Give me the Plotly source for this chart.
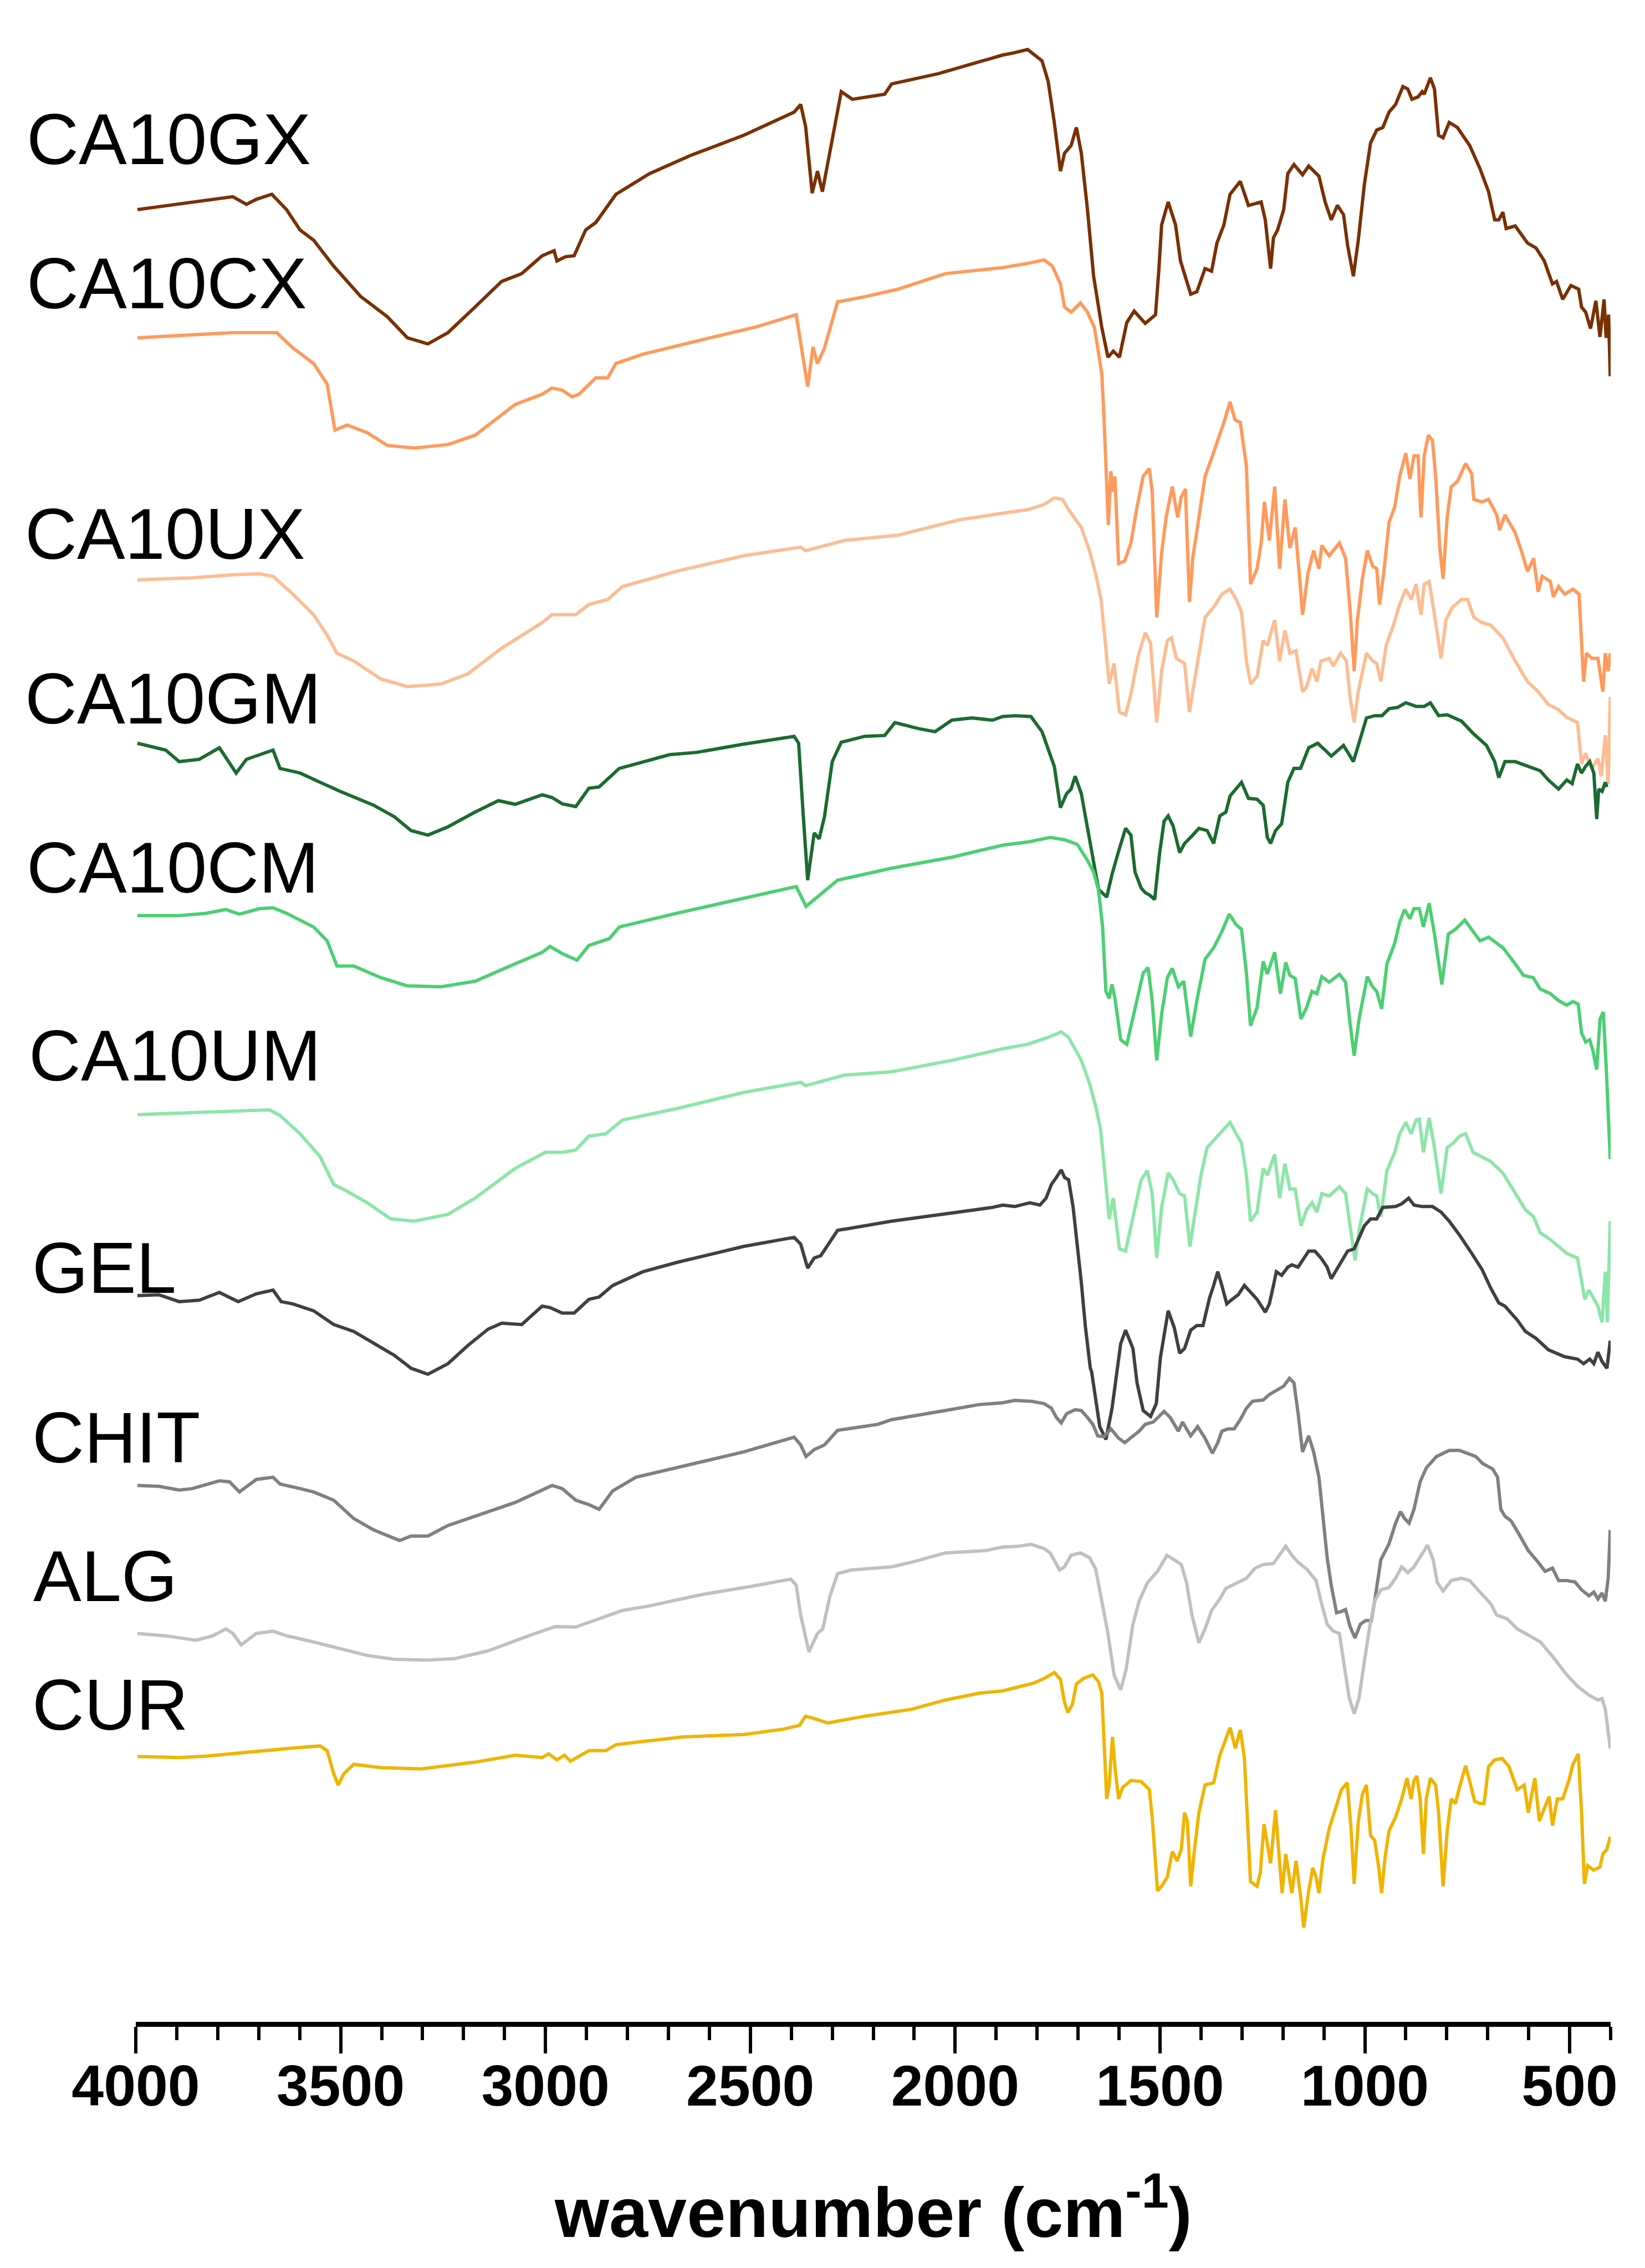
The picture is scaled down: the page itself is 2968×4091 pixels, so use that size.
import plotly.graph_objects as go

# FTIR spectra, stacked (transmittance in arbitrary units, offsets already included)
# each series: list of (wavenumber cm-1, transmittance a.u.)
CA10GX = [(3996, 1258.1), (3862, 1263.4), (3763, 1267.0), (3730, 1261.7), (3706, 1265.2), (3668, 1268.7),
          (3632, 1258.1), (3599, 1244.0), (3566, 1237.0), (3517, 1219.0), (3451, 1198.0), (3386, 1184.0),
          (3337, 1169.4), (3287, 1165.2), (3238, 1173.0), (3172, 1190.7), (3107, 1208.4), (3058, 1213.8),
          (3008, 1226.2), (2979, 1229.7), (2972, 1222.6), (2951, 1225.5), (2930, 1226.2), (2902, 1244.0),
          (2877, 1249.2), (2828, 1268.7), (2746, 1283.0), (2647, 1295.4), (2516, 1309.5), (2393, 1325.5),
          (2377, 1330.8), (2365, 1315.6), (2349, 1269.5), (2336, 1284.7), (2324, 1270.5), (2278, 1339.7),
          (2251, 1334.4), (2172, 1337.9), (2155, 1345.0), (2041, 1352.1), (1975, 1357.4), (1884, 1365.0),
          (1860, 1366.3), (1823, 1368.8), (1788, 1361.0), (1773, 1346.8), (1758, 1318.4), (1743, 1284.7),
          (1733, 1297.1), (1717, 1302.4), (1704, 1314.9), (1692, 1297.1), (1677, 1258.1), (1662, 1212.0),
          (1642, 1176.5), (1627, 1156.0), (1614, 1160.2), (1599, 1156.0), (1581, 1180.0), (1563, 1187.9),
          (1536, 1179.4), (1511, 1185.4), (1503, 1215.5), (1496, 1247.5), (1480, 1263.4), (1462, 1247.5),
          (1450, 1222.6), (1435, 1208.4), (1425, 1199.6), (1410, 1201.3), (1390, 1217.3), (1374, 1215.5),
          (1361, 1235.0), (1344, 1247.5), (1329, 1268.7), (1304, 1277.6), (1284, 1261.0), (1253, 1263.4),
          (1243, 1251.0), (1230, 1217.3), (1223, 1238.6), (1213, 1244.0), (1198, 1258.1), (1188, 1283.0),
          (1173, 1289.3), (1152, 1282.2), (1137, 1288.3), (1112, 1281.2), (1097, 1263.4), (1082, 1251.0),
          (1067, 1261.0), (1052, 1254.6), (1042, 1233.3), (1028, 1212.0), (1016, 1236.8), (1001, 1275.8),
          (986, 1304.2), (971, 1313.1), (956, 1314.9), (941, 1325.5), (925, 1330.8), (907, 1343.2),
          (895, 1341.5), (885, 1334.4), (870, 1336.1), (860, 1339.7), (855, 1337.9), (840, 1349.3),
          (830, 1341.5), (820, 1309.5), (809, 1307.8), (794, 1318.4), (774, 1314.9), (744, 1302.4),
          (719, 1286.5), (698, 1270.5), (683, 1251.0), (673, 1251.0), (663, 1256.3), (655, 1245.0),
          (633, 1246.8), (603, 1235.0), (582, 1231.5), (562, 1222.6), (542, 1206.7), (532, 1208.4),
          (517, 1196.0), (497, 1205.6), (478, 1203.1), (471, 1190.7), (461, 1187.2), (449, 1175.8),
          (436, 1195.0), (426, 1170.1), (416, 1196.0), (411, 1169.4), (405, 1185.4), (401, 1142.8)]

CA10CX = [(3996, 1169.4), (3894, 1171.2), (3829, 1172.3), (3763, 1173.0), (3698, 1173.0), (3656, 1173.0),
          (3616, 1162.3), (3566, 1151.7), (3533, 1137.5), (3514, 1105.6), (3484, 1109.1), (3435, 1103.8),
          (3386, 1095.0), (3320, 1093.2), (3238, 1095.6), (3172, 1102.0), (3074, 1123.3), (3008, 1130.4),
          (2984, 1134.7), (2959, 1133.2), (2935, 1128.6), (2918, 1130.4), (2877, 1141.8), (2848, 1141.8),
          (2828, 1151.7), (2762, 1158.1), (2598, 1169.4), (2483, 1177.2), (2388, 1185.4), (2372, 1158.8),
          (2360, 1135.7), (2347, 1163.0), (2336, 1151.7), (2319, 1162.3), (2287, 1194.3), (2221, 1197.8),
          (2139, 1203.1), (2024, 1213.8), (1884, 1218.0), (1823, 1220.9), (1783, 1223.3), (1763, 1219.1),
          (1743, 1206.7), (1733, 1190.7), (1717, 1187.2), (1694, 1193.5), (1677, 1187.2), (1660, 1176.5),
          (1650, 1158.8), (1642, 1144.6), (1637, 1116.2), (1632, 1080.7), (1626, 1040.0), (1620, 1077.2),
          (1615, 1063.0), (1610, 1073.6), (1601, 1013.3), (1586, 1015.1), (1571, 1027.5), (1556, 1052.4),
          (1541, 1073.6), (1526, 1079.0), (1519, 1063.0), (1508, 976.1), (1496, 1020.4), (1485, 1045.3),
          (1470, 1066.5), (1457, 1045.3), (1448, 1059.5), (1438, 1064.8), (1428, 986.7), (1420, 1016.9),
          (1405, 1045.3), (1390, 1073.6), (1374, 1086.1), (1359, 1098.5), (1344, 1110.9), (1329, 1125.1),
          (1317, 1112.7), (1304, 1110.9), (1289, 1080.7), (1279, 999.1), (1263, 1009.8), (1253, 1027.5),
          (1245, 1055.9), (1233, 1029.3), (1220, 1066.5), (1208, 1009.8), (1195, 1057.7), (1183, 1024.0),
          (1170, 1038.2), (1159, 1002.7), (1152, 977.9), (1139, 1006.2), (1125, 1022.2), (1112, 1009.8),
          (1105, 1025.8), (1087, 1018.7), (1062, 1027.5), (1047, 1016.9), (1036, 981.4), (1026, 938.8),
          (1018, 974.3), (1006, 1002.7), (994, 1022.2), (981, 1011.6), (971, 1009.8), (964, 985.0),
          (954, 1006.2), (941, 1041.7), (927, 1052.4), (915, 1073.6), (900, 1089.6), (890, 1071.9),
          (880, 1087.8), (870, 1087.8), (863, 1045.3), (855, 1087.8), (845, 1102.0), (835, 1098.5),
          (827, 1073.6), (817, 1024.0), (809, 1002.7), (799, 1045.3), (789, 1066.5), (774, 1070.1),
          (754, 1082.5), (739, 1075.4), (734, 1057.7), (714, 1055.9), (698, 1057.7), (678, 1047.0),
          (671, 1036.4), (658, 1047.0), (633, 1034.6), (618, 1022.2), (603, 1008.0), (588, 1016.9),
          (577, 993.8), (567, 1004.5), (547, 1000.9), (540, 990.3), (527, 997.4), (512, 992.1),
          (492, 995.6), (477, 992.1), (466, 931.7), (459, 951.3), (446, 947.7), (431, 947.7),
          (419, 924.7), (413, 951.3), (406, 938.8), (401, 951.3)]

CA10UX = [(3996, 1002.0), (3862, 1003.4), (3763, 1005.5), (3698, 1006.2), (3665, 1004.5), (3616, 992.0),
          (3566, 977.9), (3533, 963.7), (3509, 951.3), (3468, 945.9), (3402, 933.5), (3337, 928.2),
          (3255, 930.0), (3189, 937.1), (3107, 954.8), (3008, 972.5), (2984, 977.9), (2926, 977.9),
          (2894, 985.0), (2848, 988.5), (2812, 997.4), (2680, 1008.0), (2516, 1018.7), (2377, 1024.7),
          (2365, 1022.2), (2270, 1029.3), (2139, 1032.9), (1991, 1043.5), (1884, 1048.1), (1823, 1050.6),
          (1783, 1054.1), (1758, 1058.7), (1738, 1057.7), (1723, 1050.6), (1692, 1038.2), (1672, 1022.2),
          (1657, 1006.2), (1644, 988.5), (1634, 960.1), (1624, 930.0), (1612, 944.2), (1599, 910.5),
          (1584, 908.7), (1571, 922.9), (1553, 949.5), (1536, 965.4), (1523, 958.4), (1508, 903.4),
          (1496, 938.8), (1482, 960.1), (1472, 961.9), (1460, 947.7), (1440, 944.2), (1428, 910.5),
          (1418, 928.2), (1402, 956.6), (1390, 976.1), (1369, 983.2), (1349, 992.1), (1329, 995.6),
          (1314, 988.5), (1301, 979.6), (1289, 945.9), (1279, 930.0), (1263, 935.3), (1248, 960.1),
          (1238, 956.6), (1220, 974.3), (1208, 945.9), (1195, 967.2), (1183, 951.3), (1168, 953.0),
          (1152, 924.7), (1142, 928.2), (1129, 940.6), (1117, 931.7), (1107, 945.9), (1087, 947.7),
          (1077, 942.4), (1059, 951.3), (1045, 945.9), (1036, 921.1), (1026, 903.4), (1016, 924.7),
          (996, 951.3), (981, 945.9), (971, 944.2), (961, 931.7), (948, 956.6), (930, 970.8),
          (915, 985.0), (900, 995.6), (887, 988.5), (875, 999.1), (863, 977.9), (855, 999.1),
          (843, 1000.9), (830, 977.9), (814, 947.7), (802, 974.3), (786, 983.2), (764, 988.5),
          (749, 988.5), (734, 976.1), (714, 972.5), (693, 970.8), (663, 961.9), (633, 945.9),
          (603, 931.7), (577, 924.7), (552, 915.8), (527, 912.2), (507, 906.9), (481, 903.4),
          (471, 875.0), (461, 882.1), (446, 871.4), (431, 878.5), (423, 866.1), (413, 894.5),
          (406, 860.8), (401, 921.1)]

CA10GM = [(3996, 889.0), (3927, 884.3), (3894, 876.3), (3845, 877.9), (3796, 885.9), (3755, 868.4),
          (3730, 877.9), (3665, 884.3), (3648, 871.6), (3599, 868.4), (3550, 862.0), (3501, 855.7),
          (3419, 846.1), (3369, 838.2), (3328, 828.6), (3287, 825.5), (3238, 831.2), (3172, 841.4),
          (3115, 849.3), (3074, 846.8), (3008, 853.4), (2984, 851.5), (2959, 847.1), (2926, 845.2),
          (2894, 857.9), (2869, 858.8), (2820, 871.6), (2697, 881.1), (2631, 882.7), (2516, 888.4),
          (2393, 893.8), (2382, 889.0), (2372, 844.5), (2360, 794.3), (2344, 827.0), (2332, 822.9),
          (2319, 838.2), (2300, 876.3), (2278, 889.7), (2221, 893.8), (2172, 894.4), (2147, 903.3),
          (2090, 899.2), (2049, 897.0), (2008, 905.0), (1959, 906.5), (1909, 905.0), (1884, 907.5),
          (1854, 908.1), (1815, 907.5), (1788, 897.0), (1773, 884.3), (1758, 873.1), (1743, 844.5),
          (1728, 854.1), (1717, 857.3), (1707, 866.2), (1692, 854.1), (1677, 830.2), (1662, 806.4),
          (1650, 788.0), (1630, 782.6), (1617, 798.4), (1601, 814.3), (1584, 830.2), (1571, 825.5),
          (1561, 800.0), (1546, 788.9), (1536, 785.7), (1526, 784.1), (1513, 781.0), (1501, 812.8),
          (1490, 835.0), (1480, 838.8), (1468, 831.8), (1452, 813.4), (1440, 819.7), (1420, 825.5),
          (1405, 830.2), (1385, 828.6), (1369, 819.7), (1354, 838.8), (1339, 841.4), (1329, 852.5),
          (1314, 857.3), (1301, 862.0), (1284, 850.9), (1263, 850.3), (1248, 846.1), (1238, 823.9),
          (1230, 819.7), (1218, 828.6), (1203, 833.4), (1188, 862.0), (1173, 871.6), (1157, 871.6),
          (1137, 885.9), (1115, 889.0), (1097, 884.3), (1082, 880.1), (1069, 883.3), (1052, 887.5),
          (1038, 881.1), (1028, 876.3), (1016, 887.5), (996, 906.5), (976, 908.1), (958, 908.1),
          (941, 912.9), (920, 913.8), (900, 917.0), (875, 914.5), (855, 914.5), (840, 917.0),
          (820, 908.1), (799, 908.7), (764, 904.3), (734, 895.4), (703, 887.5), (683, 876.3),
          (673, 865.2), (663, 873.1), (658, 876.3), (633, 876.3), (603, 873.1), (572, 870.0),
          (552, 863.6), (527, 857.3), (507, 863.6), (494, 861.1), (481, 874.7), (471, 868.4),
          (461, 873.1), (451, 876.3), (441, 868.4), (434, 836.6), (429, 857.3), (421, 855.7),
          (413, 862.0), (409, 858.8)]

CA10CM = [(3996, 769.8), (3894, 769.8), (3829, 771.4), (3780, 774.0), (3747, 770.8), (3698, 774.6),
          (3665, 775.2), (3632, 771.4), (3566, 761.9), (3533, 752.4), (3509, 734.9), (3468, 734.9),
          (3402, 726.9), (3337, 721.2), (3255, 720.6), (3172, 724.4), (3074, 736.5), (3008, 744.4),
          (2989, 748.5), (2959, 743.5), (2923, 739.0), (2894, 749.2), (2844, 753.9), (2820, 761.9),
          (2680, 771.4), (2516, 781.6), (2388, 789.9), (2364, 776.2), (2336, 782.6), (2287, 794.3),
          (2155, 802.6), (2008, 810.2), (1884, 818.5), (1823, 820.7), (1768, 823.9), (1733, 822.3),
          (1702, 819.1), (1677, 808.0), (1662, 800.0), (1650, 787.3), (1640, 761.9), (1632, 717.4),
          (1624, 712.6), (1617, 722.2), (1610, 712.6), (1596, 684.0), (1581, 680.8), (1561, 704.7),
          (1541, 730.1), (1529, 733.9), (1519, 711.0), (1508, 669.7), (1496, 701.5), (1482, 726.9),
          (1470, 733.3), (1455, 720.6), (1442, 724.4), (1425, 686.2), (1410, 711.0), (1390, 739.6),
          (1369, 747.6), (1349, 758.7), (1331, 770.8), (1314, 763.5), (1301, 760.3), (1289, 730.1),
          (1279, 693.6), (1263, 706.3), (1248, 738.1), (1238, 729.5), (1220, 744.4), (1206, 715.8),
          (1193, 737.4), (1183, 728.5), (1170, 726.3), (1156, 698.3), (1142, 706.3), (1129, 717.4),
          (1117, 715.8), (1105, 727.6), (1087, 723.8), (1062, 729.2), (1047, 723.8), (1036, 695.1),
          (1026, 672.9), (1014, 698.3), (994, 727.6), (981, 720.6), (971, 717.4), (959, 705.3),
          (946, 736.5), (927, 750.8), (915, 765.1), (903, 774.0), (890, 767.6), (880, 774.6),
          (867, 774.6), (857, 761.9), (843, 778.4), (830, 757.1), (812, 722.2), (796, 757.1),
          (779, 760.3), (756, 766.7), (739, 760.3), (719, 752.4), (698, 754.9), (663, 747.6),
          (633, 736.5), (613, 728.5), (589, 726.9), (572, 719.0), (547, 715.8), (527, 711.0),
          (507, 707.9), (492, 710.4), (479, 708.5), (471, 688.8), (461, 682.4), (451, 684.0),
          (443, 676.1), (434, 663.4), (426, 698.3), (418, 703.1), (411, 666.5), (406, 638.0),
          (401, 601.4)]

CA10UM = [(3996, 632.2), (3894, 633.2), (3829, 634.1), (3747, 634.7), (3673, 635.4), (3648, 631.6),
          (3599, 618.9), (3550, 603.0), (3517, 583.9), (3484, 579.1), (3435, 571.2), (3378, 560.1),
          (3320, 558.5), (3238, 563.2), (3172, 574.4), (3074, 595.0), (3000, 606.1), (2959, 606.1),
          (2926, 607.7), (2894, 617.3), (2853, 618.9), (2812, 628.4), (2680, 636.3), (2516, 647.5),
          (2377, 654.5), (2365, 652.2), (2270, 659.5), (2155, 661.8), (2008, 669.7), (1884, 677.7),
          (1823, 680.8), (1773, 685.6), (1741, 689.4), (1723, 685.6), (1692, 669.7), (1672, 653.8),
          (1657, 638.0), (1645, 622.0), (1634, 590.3), (1624, 560.0), (1614, 574.4), (1599, 539.4),
          (1584, 537.8), (1566, 561.6), (1546, 587.1), (1531, 593.4), (1519, 577.5), (1508, 533.0),
          (1496, 568.0), (1480, 591.8), (1468, 587.1), (1452, 577.5), (1440, 575.9), (1427, 541.0),
          (1415, 563.2), (1400, 590.3), (1385, 609.3), (1364, 615.7), (1344, 622.0), (1329, 626.8),
          (1314, 618.9), (1301, 612.5), (1289, 590.3), (1279, 558.5), (1263, 564.8), (1248, 595.0),
          (1238, 590.3), (1220, 604.6), (1208, 574.4), (1195, 598.2), (1183, 580.7), (1170, 580.7),
          (1156, 555.3), (1142, 566.4), (1129, 571.2), (1117, 564.8), (1105, 577.5), (1087, 575.9),
          (1062, 582.3), (1047, 577.5), (1036, 555.3), (1024, 531.4), (1014, 552.1), (994, 580.7),
          (981, 577.5), (971, 575.9), (961, 561.6), (946, 593.4), (927, 606.1), (915, 618.9),
          (900, 626.8), (887, 618.9), (875, 628.4), (867, 629.0), (857, 606.1), (843, 630.0),
          (830, 609.3), (814, 577.5), (799, 609.3), (784, 612.5), (769, 617.3), (754, 618.9),
          (736, 606.1), (714, 603.0), (693, 599.8), (663, 591.8), (633, 577.5), (608, 566.4),
          (588, 561.6), (572, 550.5), (547, 545.7), (527, 541.0), (507, 536.2), (481, 533.0),
          (471, 517.1), (463, 504.4), (453, 510.8), (443, 506.0), (431, 499.7), (421, 488.5),
          (413, 523.5), (408, 488.5), (401, 558.5)]

GEL = [(3996, 507.0), (3944, 507.6), (3894, 502.8), (3845, 503.8), (3796, 509.2), (3750, 502.8),
       (3706, 508.2), (3665, 510.8), (3645, 502.8), (3616, 501.2), (3566, 496.5), (3517, 487.0),
       (3468, 482.2), (3419, 474.2), (3369, 465.7), (3328, 456.7), (3287, 452.6), (3238, 459.9),
       (3189, 472.6), (3140, 483.8), (3107, 487.9), (3058, 487.0), (3008, 499.7), (2989, 498.7),
       (2959, 494.9), (2930, 494.9), (2894, 504.4), (2869, 506.0), (2836, 514.0), (2762, 523.5),
       (2680, 529.9), (2516, 541.0), (2393, 547.3), (2377, 542.6), (2360, 526.0), (2344, 533.0),
       (2328, 534.6), (2287, 552.1), (2221, 555.3), (2155, 558.5), (1991, 564.8), (1909, 568.0),
       (1884, 569.6), (1854, 568.6), (1818, 571.2), (1793, 569.6), (1778, 574.4), (1765, 583.9),
       (1753, 588.7), (1741, 594.0), (1733, 588.7), (1723, 587.1), (1712, 568.0), (1702, 542.6),
       (1692, 516.0), (1682, 485.3), (1670, 456.7), (1667, 454.5), (1647, 416.4), (1632, 407.5),
       (1617, 429.1), (1596, 473.6), (1584, 483.1), (1566, 470.4), (1556, 446.6), (1541, 427.5),
       (1523, 423.4), (1509, 432.3), (1499, 464.1), (1480, 496.5), (1465, 484.7), (1452, 467.2),
       (1440, 470.4), (1425, 483.1), (1410, 486.3), (1395, 486.3), (1379, 505.4), (1369, 514.0),
       (1359, 523.5), (1349, 514.0), (1337, 501.3), (1324, 504.4), (1309, 507.6), (1294, 514.0),
       (1279, 509.2), (1263, 504.4), (1243, 495.5), (1233, 501.3), (1223, 514.0), (1216, 523.5),
       (1203, 521.0), (1188, 526.7), (1178, 528.3), (1163, 526.7), (1137, 537.8), (1122, 537.8),
       (1107, 533.0), (1092, 526.7), (1082, 518.7), (1072, 523.5), (1057, 531.4), (1042, 537.8),
       (1026, 539.4), (1016, 545.7), (1001, 555.3), (986, 560.0), (971, 560.0), (956, 568.0),
       (925, 568.6), (910, 570.5), (893, 574.4), (880, 569.6), (860, 568.6), (835, 568.6),
       (814, 564.8), (794, 558.5), (769, 548.9), (739, 536.2), (714, 525.1), (693, 512.4),
       (673, 501.9), (658, 499.7), (628, 490.1), (608, 482.2), (582, 477.4), (552, 469.5),
       (512, 464.7), (481, 463.1), (466, 459.9), (451, 463.1), (441, 459.9), (431, 467.9),
       (421, 461.5), (409, 456.7), (401, 475.8)]

CHIT = [(3996, 375.7), (3944, 375.1), (3894, 372.5), (3862, 373.5), (3796, 378.9), (3771, 378.2),
        (3747, 371.2), (3706, 379.8), (3665, 381.4), (3648, 376.7), (3599, 373.5), (3566, 371.2),
        (3517, 365.5), (3468, 352.8), (3419, 344.9), (3356, 337.6), (3328, 340.7), (3287, 340.7),
        (3238, 348.0), (3172, 354.4), (3074, 363.9), (2984, 375.7), (2959, 373.5), (2926, 365.5),
        (2894, 362.4), (2869, 359.2), (2836, 371.9), (2779, 381.4), (2680, 387.8), (2516, 398.9),
        (2393, 409.1), (2377, 403.7), (2364, 395.7), (2344, 400.5), (2319, 403.7), (2287, 413.8),
        (2188, 418.0), (2155, 421.2), (2024, 427.5), (1942, 431.6), (1884, 432.9), (1854, 434.5),
        (1813, 433.9), (1783, 432.3), (1765, 429.1), (1753, 422.7), (1741, 418.9), (1728, 425.3),
        (1707, 428.1), (1692, 427.5), (1677, 422.7), (1664, 418.0), (1652, 410.0), (1637, 409.4),
        (1620, 414.8), (1601, 408.4), (1586, 405.3), (1571, 408.4), (1551, 413.2), (1536, 418.0),
        (1516, 419.6), (1490, 426.9), (1475, 422.7), (1455, 413.2), (1445, 419.6), (1425, 410.0),
        (1408, 416.4), (1390, 408.4), (1372, 397.9), (1359, 405.3), (1349, 413.2), (1334, 414.8),
        (1319, 414.8), (1304, 421.2), (1289, 429.1), (1274, 433.9), (1248, 434.8), (1233, 438.6),
        (1213, 441.8), (1198, 444.4), (1184, 449.8), (1173, 446.6), (1163, 425.9), (1152, 398.9),
        (1137, 410.0), (1125, 398.9), (1112, 381.4), (1102, 352.8), (1092, 325.8), (1082, 306.7),
        (1069, 287.6), (1057, 288.6), (1047, 289.9), (1036, 278.1), (1024, 270.2), (1011, 279.7),
        (998, 282.2), (984, 282.2), (976, 295.6), (961, 324.2), (941, 335.3), (925, 349.6),
        (913, 357.6), (903, 352.8), (892, 349.6), (880, 359.2), (865, 378.2), (850, 387.8),
        (825, 395.7), (794, 399.9), (769, 399.9), (744, 397.3), (729, 395.7), (713, 391.0),
        (688, 387.1), (676, 381.4), (668, 359.2), (658, 354.4), (643, 351.2), (623, 341.7),
        (601, 330.6), (577, 322.6), (560, 316.3), (542, 318.5), (527, 309.9), (507, 309.9),
        (487, 308.9), (471, 303.5), (453, 299.4), (441, 301.9), (431, 297.2), (421, 301.3),
        (413, 295.6), (406, 311.5), (401, 344.9)]

ALG = [(3996, 273.3), (3927, 271.7), (3853, 268.6), (3812, 271.7), (3780, 276.5), (3763, 273.3),
       (3743, 265.4), (3706, 273.3), (3665, 274.9), (3632, 271.7), (3583, 268.6), (3517, 263.8),
       (3435, 258.1), (3369, 255.5), (3287, 254.9), (3222, 255.9), (3140, 261.3), (3041, 271.7),
       (2976, 278.1), (2926, 277.8), (2877, 282.9), (2812, 289.2), (2746, 292.4), (2615, 300.4),
       (2500, 305.8), (2401, 310.9), (2388, 306.7), (2377, 286.0), (2357, 260.6), (2336, 273.3),
       (2323, 276.5), (2306, 298.8), (2287, 314.7), (2254, 317.2), (2155, 319.4), (2106, 322.6),
       (2024, 329.0), (1926, 330.6), (1884, 333.1), (1844, 333.7), (1815, 335.0), (1783, 332.1),
       (1768, 329.0), (1745, 317.2), (1733, 319.4), (1717, 327.4), (1694, 329.0), (1672, 325.8),
       (1657, 317.9), (1642, 295.6), (1627, 273.3), (1612, 244.7), (1596, 234.3), (1583, 247.9),
       (1566, 279.7), (1551, 295.6), (1531, 308.3), (1506, 316.3), (1483, 327.4), (1465, 324.2),
       (1448, 321.0), (1435, 308.3), (1422, 286.0), (1405, 267.0), (1390, 276.5), (1374, 289.2),
       (1354, 297.2), (1339, 304.5), (1314, 308.3), (1289, 311.5), (1268, 318.5), (1248, 321.0),
       (1223, 321.7), (1208, 327.4), (1193, 333.7), (1178, 327.4), (1163, 322.6), (1142, 317.9),
       (1119, 309.9), (1107, 295.6), (1092, 279.7), (1077, 274.9), (1062, 273.3), (1052, 254.3),
       (1038, 228.8), (1026, 217.7), (1014, 228.8), (1001, 254.3), (988, 278.1), (976, 295.6),
       (961, 303.5), (941, 305.1), (925, 311.5), (910, 319.4), (895, 315.3), (880, 319.4),
       (865, 325.8), (847, 334.4), (833, 324.2), (823, 308.3), (809, 302.6), (789, 309.9),
       (764, 311.5), (744, 309.9), (724, 303.5), (693, 294.0), (678, 286.0), (653, 283.5),
       (628, 276.5), (608, 273.3), (572, 267.6), (542, 257.5), (507, 244.7), (481, 236.8),
       (451, 230.4), (431, 227.3), (421, 228.2), (413, 220.9), (406, 206.6), (401, 193.9)]

CUR = [(3996, 188.2), (3894, 187.5), (3829, 188.5), (3747, 190.7), (3665, 193.2), (3599, 194.5),
       (3550, 195.5), (3533, 192.3), (3517, 176.4), (3506, 168.5), (3492, 176.4), (3468, 182.8),
       (3402, 180.5), (3304, 179.6), (3172, 184.3), (3074, 189.1), (3008, 187.5), (2992, 190.1),
       (2972, 185.9), (2954, 189.1), (2939, 185.0), (2894, 192.3), (2853, 192.3), (2828, 196.4),
       (2762, 198.6), (2664, 201.8), (2516, 203.4), (2418, 207.2), (2380, 209.8), (2365, 216.1),
       (2344, 214.5), (2311, 211.4), (2221, 216.1), (2106, 220.9), (2024, 227.3), (1942, 232.0),
       (1884, 233.6), (1843, 236.5), (1808, 239.0), (1783, 242.2), (1758, 246.3), (1743, 241.6),
       (1733, 225.7), (1725, 218.7), (1714, 224.1), (1704, 238.4), (1687, 242.2), (1664, 244.7),
       (1650, 240.0), (1642, 232.0), (1637, 203.4), (1630, 158.9), (1624, 168.5), (1616, 201.8),
       (1610, 181.2), (1601, 158.9), (1591, 166.9), (1571, 171.6), (1546, 171.0), (1526, 165.3),
       (1519, 146.2), (1506, 95.4), (1496, 98.5), (1482, 104.9), (1470, 122.4), (1458, 116.0),
       (1448, 124.0), (1440, 149.4), (1433, 143.0), (1425, 98.5), (1417, 120.8), (1405, 149.4),
       (1390, 168.5), (1369, 170.0), (1354, 189.1), (1339, 200.2), (1329, 208.2), (1316, 193.9),
       (1304, 206.6), (1294, 187.5), (1287, 146.2), (1279, 101.7), (1263, 98.5), (1255, 108.1),
       (1246, 141.4), (1238, 127.1), (1230, 114.4), (1218, 151.0), (1208, 114.4), (1202, 93.8),
       (1193, 120.8), (1185, 104.9), (1178, 93.8), (1168, 116.0), (1157, 92.2), (1149, 69.9),
       (1137, 95.4), (1127, 111.2), (1119, 104.9), (1112, 93.8), (1102, 117.6), (1087, 138.3),
       (1072, 152.6), (1057, 165.3), (1043, 170.1), (1034, 139.8), (1026, 100.1), (1016, 143.0),
       (1006, 162.1), (996, 168.5), (986, 133.5), (976, 130.3), (966, 111.2), (959, 93.8),
       (951, 117.6), (941, 136.7), (925, 146.2), (910, 158.9), (897, 173.2), (887, 158.9),
       (880, 171.6), (873, 174.8), (865, 158.9), (857, 120.8), (850, 158.9), (840, 173.2),
       (827, 168.5), (820, 149.4), (809, 98.5), (799, 136.7), (789, 158.9), (779, 155.7),
       (766, 170.0), (754, 181.8), (743, 170.0), (732, 157.3), (719, 155.7), (709, 155.7),
       (698, 181.2), (683, 185.9), (665, 186.9), (648, 181.2), (628, 165.3), (611, 168.5),
       (601, 149.4), (585, 173.2), (574, 143.7), (562, 152.6), (550, 160.5), (542, 140.5),
       (530, 158.9), (517, 158.9), (502, 171.6), (492, 182.8), (479, 190.0), (471, 149.4),
       (464, 100.1), (456, 112.8), (441, 109.6), (426, 111.8), (419, 120.8), (409, 124.0),
       (401, 132.8)]

names = ['CA10GX', 'CA10CX', 'CA10UX', 'CA10GM', 'CA10CM', 'CA10UM', 'GEL', 'CHIT', 'ALG', 'CUR']
spectra = [CA10GX, CA10CX, CA10UX, CA10GM, CA10CM, CA10UM, GEL, CHIT, ALG, CUR]
colors = ['#7a3000', '#ff9a5c', '#fdbd93', '#1b6b30', '#4ccf72', '#8ce6a8',
          '#404040', '#808080', '#c0c0c0', '#f0b400']

# label placement (left edge in paper coords, height in data units)
label_x = [-0.0749, -0.0749, -0.0760, -0.0760, -0.0749, -0.0734, -0.0711, -0.0711, -0.0704, -0.0711]
label_y = [1307, 1207, 1034, 920, 803, 673, 526, 409, 313, 224]

FONT = 'Arial, "Liberation Sans", sans-serif'

fig = go.Figure()
for name, data, col in zip(names, spectra, colors):
    wn = [p[0] for p in data]
    t = [p[1] for p in data]
    fig.add_trace(go.Scatter(x=wn, y=t, mode='lines', name=name,
                             line=dict(color=col, width=6)))

for name, lx, ly in zip(names, label_x, label_y):
    fig.add_annotation(text=name, x=lx, y=ly, xref='paper', yref='y',
                       xanchor='left', yanchor='middle', showarrow=False,
                       font=dict(family=FONT, size=130, color='black'))

fig.add_annotation(text='<b>wavenumber (cm<sup>-1</sup>)</b>', x=0.5, y=-0.0921,
                   xref='paper', yref='paper', xanchor='center', yanchor='middle',
                   showarrow=False, font=dict(family=FONT, size=126, color='black'))

fig.update_xaxes(range=[4000, 400], tickmode='linear', tick0=500, dtick=500,
                 ticks='outside', ticklen=48, tickwidth=6, tickcolor='black',
                 ticklabelstandoff=-31,
                 showline=True, linewidth=9, linecolor='black', showgrid=False, zeroline=False,
                 tickfont=dict(family=FONT, size=104, color='black', weight='bold'),
                 minor=dict(tickmode='linear', tick0=0, dtick=100, ticks='outside',
                            ticklen=24, tickwidth=6, tickcolor='black', showgrid=False))
fig.update_yaxes(range=[4.7, 1400], visible=False, showgrid=False, zeroline=False)

fig.update_layout(width=2968, height=4091, showlegend=False,
                  plot_bgcolor='white', paper_bgcolor='white',
                  margin=dict(l=237, r=70, t=0, b=452, autoexpand=False))

fig.write_html("out.html")
